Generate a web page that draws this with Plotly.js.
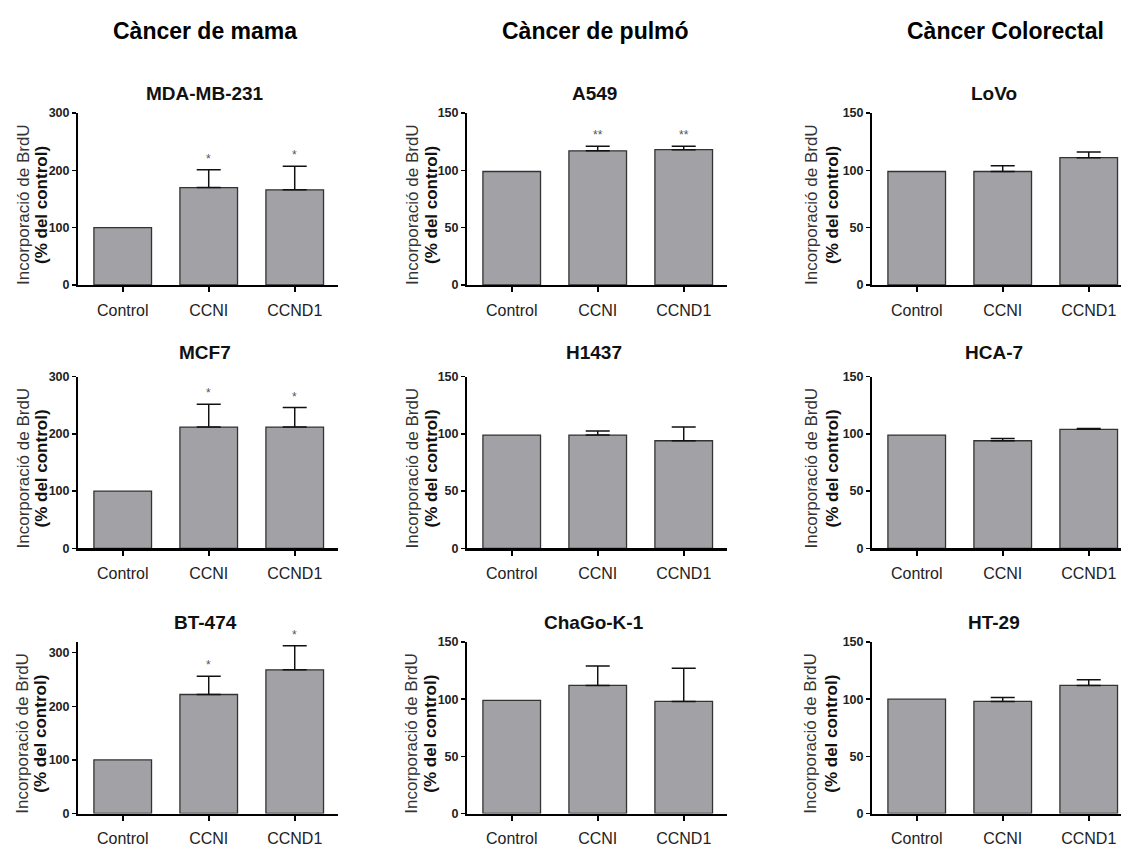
<!DOCTYPE html>
<html>
<head>
<meta charset="utf-8">
<script src="https://cdn.plot.ly/plotly-3.0.1.min.js"></script>
<style>html,body{margin:0;padding:0;background:#fff}#chart{width:1121px;height:847px}</style>
</head>
<body>
<div id="chart"></div>
<script>
// ---- DATA ----
const categories = ['Control', 'CCNI', 'CCND1'];
const groupTitles = ['Càncer de mama', 'Càncer de pulmó', 'Càncer Colorectal'];
const cellLines = ['MDA-MB-231', 'A549', 'LoVo', 'MCF7', 'H1437', 'HCA-7', 'BT-474', 'ChaGo-K-1', 'HT-29'];

const mda231 = [100, 170, 166];   const mda231Err = [null, 31, 41];   const mda231Sig = ['', '*', '*'];
const a549 = [99, 117, 118];      const a549Err = [null, 4, 3];       const a549Sig = ['', '**', '**'];
const lovo = [99, 99, 111];       const lovoErr = [null, 5, 5];       const lovoSig = ['', '', ''];
const mcf7 = [100, 212, 212];     const mcf7Err = [null, 40, 34];     const mcf7Sig = ['', '*', '*'];
const h1437 = [99, 99, 94];       const h1437Err = [null, 3.5, 12];   const h1437Sig = ['', '', ''];
const hca7 = [99, 94, 104];       const hca7Err = [null, 2, 0.8];     const hca7Sig = ['', '', ''];
const bt474 = [100, 222, 268];    const bt474Err = [null, 34, 45];    const bt474Sig = ['', '*', '*'];
const chago = [99, 112, 98];      const chagoErr = [null, 17, 29];    const chagoSig = ['', '', ''];
const ht29 = [100, 98, 112];      const ht29Err = [null, 3.5, 5];     const ht29Sig = ['', '', ''];

const yMax = [300, 150, 150, 300, 150, 150, 320, 150, 150];
const yTicks300 = [0, 100, 200, 300];
const yTicks150 = [0, 50, 100, 150];

const yTitleLine1 = 'Incorporació de BrdU';
const yTitleLine2 = '(% del control)';

const panelValues = [mda231, a549, lovo, mcf7, h1437, hca7, bt474, chago, ht29];
const panelErr = [mda231Err, a549Err, lovoErr, mcf7Err, h1437Err, hca7Err, bt474Err, chagoErr, ht29Err];
const panelSig = [mda231Sig, a549Sig, lovoSig, mcf7Sig, h1437Sig, hca7Sig, bt474Sig, chagoSig, ht29Sig];

// ---- LAYOUT (pixel geometry) ----
const W = 1121, H = 847;
const px = v => v / W;
const py = v => 1 - v / H;
const catPx = 86;
const colStart = [78, 467, 872];
const colEnd = [338, 727, 1121];
const rowTop = [113, 376.7, 642];
const rowBot = [285, 548.3, 813.5];
const titleY = [93, 352, 622];
const yTitleOff1 = [55, 55, 61];
const yTitleOff2 = [37, 36, 40];

const FONT = 'Liberation Sans, Arial, sans-serif';
const traces = [];
const layout = {
  width: W, height: H,
  margin: {l: 0, r: 0, t: 0, b: 0},
  paper_bgcolor: '#fff', plot_bgcolor: '#fff',
  showlegend: false,
  annotations: []
};

for (let i = 0; i < 9; i++) {
  const r = Math.floor(i / 3), c = i % 3;
  const ax = i === 0 ? '' : String(i + 1);
  traces.push({
    type: 'bar',
    x: categories,
    y: panelValues[i],
    xaxis: 'x' + ax, yaxis: 'y' + ax,
    width: 0.67,
    marker: {color: '#a2a1a5', line: {color: '#333', width: 1.3}},
    error_y: {type: 'data', symmetric: false,
              array: panelErr[i].map(v => (v == null ? NaN : v)),
              arrayminus: panelErr[i].map(v => (v == null ? NaN : 0)),
              color: '#111', thickness: 1.5, width: 12},
    hoverinfo: 'none'
  });
  const xStart = -0.52;
  const xEnd = xStart + (colEnd[c] - colStart[c]) / catPx;
  layout['xaxis' + ax] = {
    domain: [px(colStart[c]), px(colEnd[c])],
    anchor: 'y' + ax,
    type: 'category',
    range: [xStart, xEnd],
    showline: true, linecolor: '#000', linewidth: 2.4,
    ticks: 'outside', ticklen: 5, tickwidth: 2, tickcolor: '#000',
    tickfont: {family: FONT, size: 16, color: '#222'},
    ticklabelstandoff: 4,
    showgrid: false, zeroline: false, fixedrange: true
  };
  layout['yaxis' + ax] = {
    domain: [py(rowBot[r]), py(rowTop[r])],
    anchor: 'x' + ax,
    range: [0, yMax[i]],
    tickvals: yMax[i] > 150 ? yTicks300 : yTicks150,
    showline: true, linecolor: '#000', linewidth: 2,
    ticks: 'outside', ticklen: 4, tickwidth: 1.5, tickcolor: '#000',
    tickfont: {family: FONT, size: 12.5, color: '#222', weight: 'bold'},
    showgrid: false, zeroline: false, fixedrange: true
  };
  // panel title
  layout.annotations.push({
    xref: 'paper', yref: 'paper',
    x: px((colStart[c] + colEnd[c]) / 2 - 3), y: py(titleY[r]),
    text: '<b>' + cellLines[i] + '</b>', showarrow: false,
    font: {family: FONT, size: 19, color: '#111'},
    xanchor: 'center', yanchor: 'middle'
  });
  // y axis title lines
  const midY = (rowTop[r] + rowBot[r]) / 2 + 6;
  layout.annotations.push({
    xref: 'paper', yref: 'paper',
    x: px(colStart[c] - yTitleOff1[c]), y: py(midY),
    text: yTitleLine1, textangle: -90, showarrow: false,
    font: {family: FONT, size: 17, color: '#333'},
    xanchor: 'center', yanchor: 'middle'
  });
  layout.annotations.push({
    xref: 'paper', yref: 'paper',
    x: px(colStart[c] - yTitleOff2[c]), y: py(midY),
    text: '<b>' + yTitleLine2 + '</b>', textangle: -90, showarrow: false,
    font: {family: FONT, size: 17, color: '#111'},
    xanchor: 'center', yanchor: 'middle'
  });
  // significance stars
  panelSig[i].forEach((s, k) => {
    if (!s) return;
    layout.annotations.push({
      xref: 'x' + ax, yref: 'y' + ax,
      x: categories[k], y: panelValues[i][k] + (panelErr[i][k] || 0),
      text: s, showarrow: false, yanchor: 'bottom', yshift: 2,
      font: {family: FONT, size: 12, color: '#555'}
    });
  });
}

// group headers
const headerX = [205, 595, 1005];
groupTitles.forEach((t, c) => {
  layout.annotations.push({
    xref: 'paper', yref: 'paper',
    x: px(headerX[c]), y: py(31),
    text: '<b>' + t + '</b>', showarrow: false,
    font: {family: FONT, size: 23, color: '#000'},
    xanchor: 'center', yanchor: 'middle'
  });
});

Plotly.newPlot('chart', traces, layout, {displayModeBar: false, staticPlot: true});
</script>
</body>
</html>
